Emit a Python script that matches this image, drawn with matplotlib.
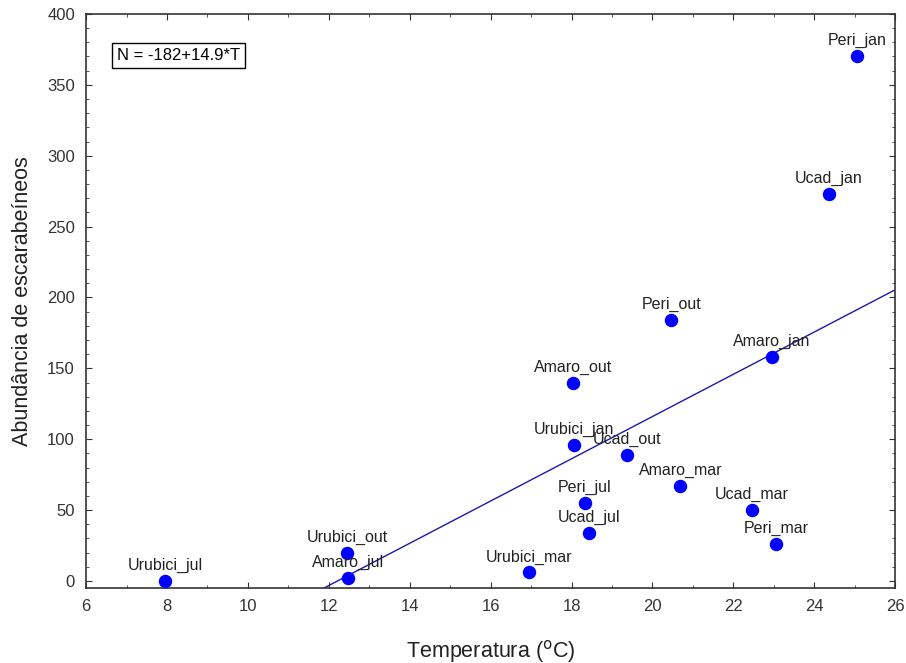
import numpy as np
import matplotlib.pyplot as plt
from matplotlib.ticker import MultipleLocator

# temperature (C) and beetle abundance
sites = ["Urubici_jul", "Urubici_out", "Amaro_jul", "Urubici_mar", "Ucad_jul",
         "Peri_jul", "Urubici_jan", "Amaro_out", "Ucad_out", "Amaro_mar",
         "Peri_out", "Ucad_mar", "Peri_mar", "Amaro_jan", "Ucad_jan", "Peri_jan"]
temp = [7.96, 12.45, 12.48, 16.94, 18.43, 18.33, 18.06, 18.03, 19.37, 20.69,
        20.47, 22.45, 23.05, 22.95, 24.36, 25.06]
abund = [0, 20, 2, 6, 34, 55, 96, 140, 89, 67, 184, 50, 26, 158, 273, 370]

# fitted line N = -182 + 14.9*T
intercept = -182
slope = 14.9

plt.rcParams['font.family'] = ['Liberation Sans', 'DejaVu Sans']

fig = plt.figure(figsize=(9.06, 6.63), dpi=100)
ax = fig.add_axes([0.095, 0.113, 0.893, 0.866])

t_line = np.array([6, 26])
ax.plot(t_line, intercept + slope * t_line, color='#1a1aa8', lw=1.0, zorder=2)
ax.scatter(temp, abund, s=75, color='#0000ff', zorder=3)

for name, t, n in zip(sites, temp, abund):
    ax.annotate(name, (t, n), xytext=(0, 8), textcoords='offset points',
                ha='center', va='baseline', fontsize=11.5, color='#222222')

ax.text(0.038, 0.94, "N = -182+14.9*T", transform=ax.transAxes, fontsize=12,
        va='top', ha='left',
        bbox=dict(boxstyle='square,pad=0.3', fc='white', ec='black', lw=1))

ax.set_xlim(6, 26)
ax.set_ylim(-5, 400)
ax.xaxis.set_major_locator(MultipleLocator(2))
ax.xaxis.set_minor_locator(MultipleLocator(1))
ax.yaxis.set_major_locator(MultipleLocator(50))
ax.yaxis.set_minor_locator(MultipleLocator(10))
ax.tick_params(which='both', direction='in', top=True, right=True,
               labelsize=12, colors='#333333')
ax.tick_params(which='major', length=4, pad=8)
ax.tick_params(which='minor', length=2.5)
for sp in ax.spines.values():
    sp.set_linewidth(1.2)
    sp.set_color('#333333')

ax.set_xlabel("Temperatura ($^{\\rm o}$C)", fontsize=15.5, color='#222222', labelpad=17)
ax.set_ylabel("Abundância de escarabeíneos", fontsize=15.5, color='#222222', labelpad=10)

fig.savefig("out.png", dpi=100)
